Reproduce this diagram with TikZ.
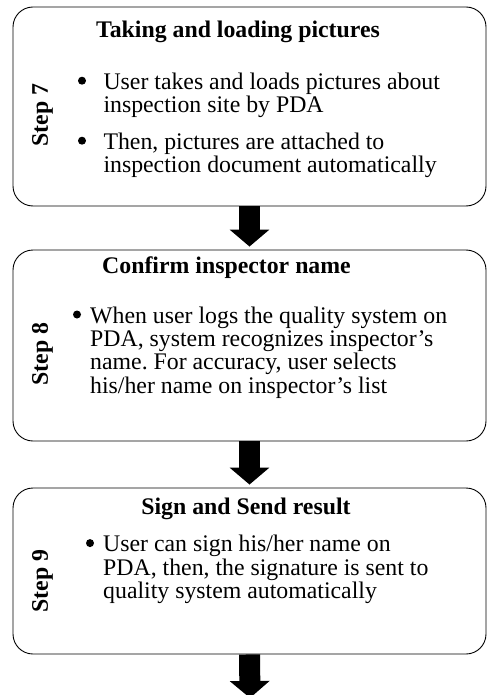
\documentclass[tikz,border=0pt]{standalone}
\usepackage{fontspec}
\setmainfont{Liberation Serif}
\usetikzlibrary{arrows.meta}
\frenchspacing
\begin{document}
\begin{tikzpicture}[x=1pt,y=1pt,
  stepbox/.style={draw=black, line width=0.9pt, rounded corners=20pt, minimum width=473pt, inner sep=0pt},
  txt/.style={font=\fontsize{23.8}{23.4}\selectfont, inner sep=0pt, align=left, anchor=base west},
  ttl/.style={font=\fontsize{23.8}{23.4}\selectfont\bfseries, inner sep=0pt, anchor=base},
  steplbl/.style={font=\fontsize{23.8}{23.4}\selectfont\bfseries, inner sep=0pt, rotate=90},
  bul/.style={circle, fill=black, inner sep=0pt, minimum size=8pt},
  fatarrow/.style={line width=21pt, -{Triangle[width=39pt 0 0, length=17pt 0 0]}, shorten >=3pt}
]
\useasboundingbox (0,0) rectangle (487,-695);
% boxes
\node[stepbox, minimum height=199pt] (b7) at (249.5,-106.5) {};
\node[stepbox, minimum height=191pt] (b8) at (249.5,-345.5) {};
\node[stepbox, minimum height=166pt] (b9) at (249.5,-571) {};
% box 7 (multi-line text nodes are anchored at the baseline of their last line)
\node[ttl] (t7) at (238,-37.3) {Taking and loading pictures};
\node[steplbl] (s7) at (42.5,-115) {Step 7};
\node[bul] (u7a) at (82,-80.7) {};
\node[txt] (x7a) at (103.3,-112.7) {User takes and loads pictures about\\inspection site by PDA};
\node[bul] (u7b) at (82,-140.7) {};
\node[txt] (x7b) at (103.3,-172.7) {Then, pictures are attached to\\inspection document automatically};
% box 8
\node[ttl] (t8) at (226.5,-273) {Confirm inspector name};
\node[steplbl] (s8) at (42.5,-354) {Step 8};
\node[bul] (u8) at (77,-314.5) {};
\node[txt] (x8) at (90,-393.2) {When user logs the quality system on\\PDA, system recognizes inspector’s\\name. For accuracy, user selects\\his/her name on inspector’s list};
% box 9
\node[ttl] (t9) at (246,-514) {Sign and Send result};
\node[steplbl] (s9) at (42.5,-581) {Step 9};
\node[bul] (u9) at (90,-543.1) {};
\node[txt] (x9) at (103,-598.5) {User can sign his/her name on\\PDA, then, the signature is sent to\\quality system automatically};
% arrows
\coordinate (end) at (250,-698);
\draw[fatarrow] (b7.south) -- (b8.north);
\draw[fatarrow] (b8.south) -- (b9.north);
\draw[fatarrow, shorten >=0pt] (b9.south) -- (end);
\end{tikzpicture}
\end{document}
